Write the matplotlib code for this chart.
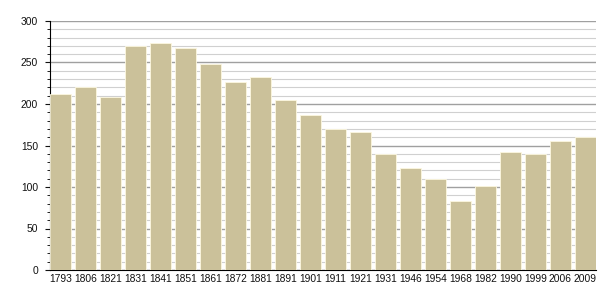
import matplotlib
matplotlib.use("Agg")
import matplotlib.pyplot as plt
from matplotlib.ticker import MultipleLocator

years = ["1793", "1806", "1821", "1831", "1841", "1851", "1861", "1872", "1881", "1891",
         "1901", "1911", "1921", "1931", "1946", "1954", "1968", "1982", "1990", "1999",
         "2006", "2009"]
population = [212, 221, 209, 270, 273, 267, 248, 226, 232, 205,
              187, 170, 166, 140, 123, 110, 83, 101, 142, 140,
              155, 160]
yticks = [0, 50, 100, 150, 200, 250, 300]

plt.rcParams['font.family'] = ['Liberation Sans', 'DejaVu Sans']
fig = plt.figure(figsize=(6.05, 3.0), dpi=100)
ax = fig.add_axes([50/605, 30/300, 546/605, 249/300])

w = 0.84
x = range(len(years))
ax.bar(x, population, width=w, color="#cbc19a", edgecolor="#fdf8e0", linewidth=0.6, zorder=3)

ax.set_xlim(-w/2, len(years) - 1 + w/2)
ax.set_ylim(0, 300)
ax.set_yticks(yticks)
ax.yaxis.set_minor_locator(MultipleLocator(10))
ax.set_xticks(list(x))
ax.set_xticklabels(years)
ax.grid(axis='y', which='major', color="#a0a0a0", linewidth=1.0, zorder=0)
ax.grid(axis='y', which='minor', color="#d0d0d0", linewidth=0.8, zorder=0)
ax.set_axisbelow(True)

for s in ['top', 'right']:
    ax.spines[s].set_visible(False)
ax.spines['left'].set_color('black')
ax.spines['bottom'].set_color('black')
ax.tick_params(axis='x', length=0, labelsize=7.4, pad=3, colors='#111111')
ax.tick_params(axis='y', which='major', length=3.6, labelsize=7.4, pad=5, direction='out', colors='#111111')
ax.tick_params(axis='y', which='minor', length=2, direction='out')

fig.savefig("out.png", dpi=100)
